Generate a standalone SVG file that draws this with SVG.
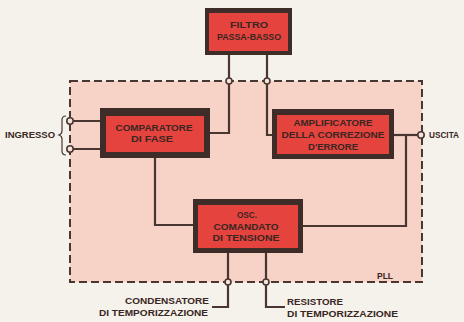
<svg xmlns="http://www.w3.org/2000/svg" width="464" height="322" viewBox="0 0 464 322">
<style>
.t{font-family:"Liberation Sans",Arial,sans-serif;font-weight:bold;font-size:8.5px;fill:#3a2622}
.c{text-anchor:middle}
.w{stroke:#4a3631;stroke-width:2.2;fill:none}
.frame{fill:#3e2c28}
.red{fill:#e5433d}
.j{fill:#f6e4dc;stroke:#4a3631;stroke-width:1.6}
</style>
<rect width="464" height="322" fill="#f5f2ec"/>
<g id="pll">
<rect x="70" y="81" width="352" height="201" fill="#f7d2c6" stroke="#4a3631" stroke-width="2" stroke-dasharray="8 4"/>
<text class="t" x="377" y="279">PLL</text>
</g>
<g id="connectors">
<path class="w" d="M229 55V81M267 55V81"/>
<path class="w" d="M210 133H229V81"/>
<path class="w" d="M267 81V135H272"/>
<path class="w" d="M70 121H100M70 149H100"/>
<path class="w" d="M155 158V225H193"/>
<path class="w" d="M394 135H421"/>
<path class="w" d="M406 135V226H303"/>
<path class="w" d="M228 253V307H212"/>
<path class="w" d="M266 253V307H285"/>
<path d="M66 116q-4 0-4 4v11q0 3-3 4q3 1 3 4v12q0 4 4 4" fill="none" stroke="#4a3631" stroke-width="1.2"/>
<circle class="j" cx="229" cy="81" r="3"/>
<circle class="j" cx="267" cy="81" r="3"/>
<circle class="j" cx="70" cy="121" r="3.2"/>
<circle class="j" cx="70" cy="149" r="3.2"/>
<circle class="j" cx="421" cy="135" r="3.2"/>
<circle class="j" cx="228" cy="282" r="3"/>
<circle class="j" cx="266" cy="282" r="3"/>
</g>
<g id="filtro">
<rect class="frame" x="205" y="8" width="87" height="47"/>
<rect class="red" x="209" y="13" width="79" height="38"/>
<text class="t c" x="249" y="28" textLength="38" lengthAdjust="spacingAndGlyphs">FILTRO</text>
<text class="t c" x="249" y="40" textLength="64" lengthAdjust="spacingAndGlyphs">PASSA-BASSO</text>
</g>
<g id="comparatore">
<rect class="frame" x="100" y="108" width="110" height="50"/>
<rect class="red" x="106" y="116" width="98" height="36"/>
<text class="t c" x="154" y="131" textLength="77" lengthAdjust="spacingAndGlyphs">COMPARATORE</text>
<text class="t c" x="152" y="142" textLength="42" lengthAdjust="spacingAndGlyphs">DI FASE</text>
</g>
<g id="amplificatore">
<rect class="frame" x="272" y="109" width="122" height="50"/>
<rect class="red" x="277" y="115" width="112" height="39"/>
<text class="t c" x="333" y="126" textLength="79" lengthAdjust="spacingAndGlyphs">AMPLIFICATORE</text>
<text class="t c" x="333" y="138" textLength="103" lengthAdjust="spacingAndGlyphs">DELLA CORREZIONE</text>
<text class="t c" x="333" y="150" textLength="50" lengthAdjust="spacingAndGlyphs">D'ERRORE</text>
</g>
<g id="vco">
<rect class="frame" x="193" y="199" width="110" height="54"/>
<rect class="red" x="198" y="205" width="100" height="43"/>
<text class="t c" x="247" y="218" textLength="20" lengthAdjust="spacingAndGlyphs">OSC.</text>
<text class="t c" x="246" y="230" textLength="65" lengthAdjust="spacingAndGlyphs">COMANDATO</text>
<text class="t c" x="246" y="241" textLength="67" lengthAdjust="spacingAndGlyphs">DI TENSIONE</text>
</g>
<g id="labels">
<text class="t" x="5" y="138" textLength="50" lengthAdjust="spacingAndGlyphs">INGRESSO</text>
<text class="t" x="429" y="138" textLength="30" lengthAdjust="spacingAndGlyphs">USCITA</text>
<text class="t" x="125" y="304" textLength="84" lengthAdjust="spacingAndGlyphs">CONDENSATORE</text>
<text class="t" x="99" y="316" textLength="109" lengthAdjust="spacingAndGlyphs">DI TEMPORIZZAZIONE</text>
<text class="t" x="287" y="305" textLength="56" lengthAdjust="spacingAndGlyphs">RESISTORE</text>
<text class="t" x="287" y="317" textLength="111" lengthAdjust="spacingAndGlyphs">DI TEMPORIZZAZIONE</text>
</g>
</svg>
